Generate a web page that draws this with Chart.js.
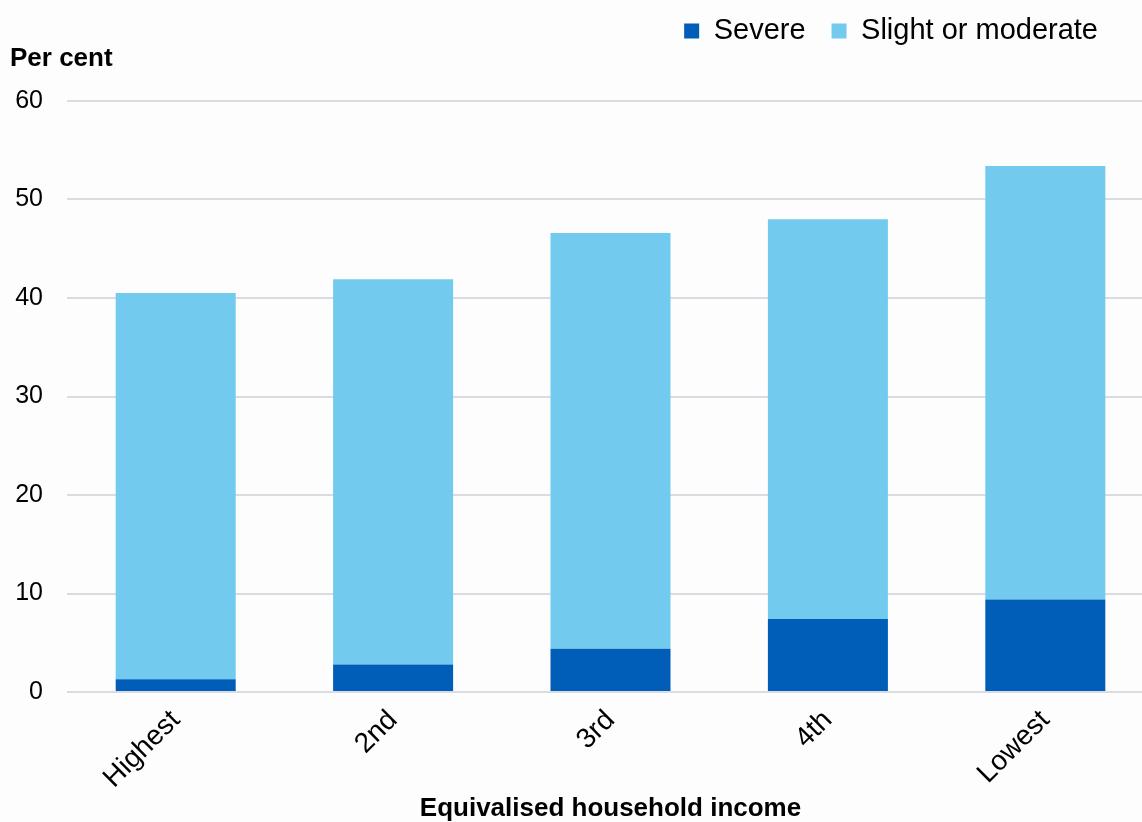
<!DOCTYPE html>
<html>
<head>
<meta charset="utf-8">
<title>Equivalised household income</title>
<script src="https://cdn.jsdelivr.net/npm/chart.js@4/dist/chart.umd.min.js"></script>
<style>
  html, body { margin: 0; padding: 0; background: #fdfdfd; overflow: hidden; }
  #wrap { width: 1160px; height: 822px; }
</style>
</head>
<body>
<div id="wrap"><canvas id="chart" width="1160" height="822"></canvas></div>
<script>
// Income quintiles, highest to lowest
const categories = ['Highest', '2nd', '3rd', '4th', 'Lowest'];
// Percentages of adults, stacked
const severe = [1.3, 2.8, 4.4, 7.4, 9.4];
const slightOrModerate = [39.2, 39.1, 42.2, 40.6, 44.0];
const seriesNames = ['Severe', 'Slight or moderate'];
const yTicks = [0, 10, 20, 30, 40, 50, 60];
const yAxisLabel = 'Per cent';
const xAxisLabel = 'Equivalised household income';

const FONT = '"Liberation Sans", Arial, Helvetica, sans-serif';
const LEGEND_PAD = 26;

// Keeps the legend in the top-right corner above the "Per cent" heading
const legendPlacement = {
  id: 'legendPlacement',
  afterLayout(chart) {
    const lg = chart.legend;
    if (!lg) return;
    const dx = 1124 - lg.right;
    const dy = (16.5 - LEGEND_PAD) - lg.top;
    lg.left += dx; lg.right += dx;
    lg.top += dy; lg.bottom += dy;
  }
};

// Unit heading over the value axis
const unitHeading = {
  id: 'unitHeading',
  afterDraw(chart) {
    const ctx = chart.ctx;
    ctx.save();
    ctx.font = 'bold 26px ' + FONT;
    ctx.fillStyle = '#000';
    ctx.textAlign = 'left';
    ctx.textBaseline = 'alphabetic';
    ctx.fillText(yAxisLabel, 10, 66);
    ctx.restore();
  }
};

new Chart(document.getElementById('chart'), {
  type: 'bar',
  data: {
    labels: categories,
    datasets: [
      { label: seriesNames[0], data: severe, backgroundColor: '#005eb8', borderWidth: 0 },
      { label: seriesNames[1], data: slightOrModerate, backgroundColor: '#72cbee', borderWidth: 0 }
    ]
  },
  options: {
    responsive: false,
    animation: false,
    devicePixelRatio: 1,
    layout: { padding: { top: 36, left: 0, right: 6, bottom: 0 } },
    datasets: { bar: { barPercentage: 0.552, categoryPercentage: 1 } },
    plugins: {
      legend: {
        position: 'top',
        align: 'end',
        labels: {
          font: { family: FONT, size: 29 },
          color: '#000',
          boxWidth: 15,
          boxHeight: 15,
          padding: LEGEND_PAD
        }
      },
      tooltip: { enabled: false }
    },
    scales: {
      x: {
        stacked: true,
        grid: { display: false, drawTicks: false },
        border: { display: false },
        ticks: {
          font: { family: FONT, size: 28 },
          color: '#000',
          minRotation: 45,
          maxRotation: 45,
          autoSkip: false,
          padding: 12
        },
        title: {
          display: true,
          text: xAxisLabel,
          font: { family: FONT, size: 26, weight: 'bold', lineHeight: 1 },
          color: '#000',
          padding: 0
        },
        afterFit(scale) { scale.height = 130; }
      },
      y: {
        stacked: true,
        min: yTicks[0],
        max: yTicks[yTicks.length - 1],
        afterBuildTicks(scale) { scale.ticks = yTicks.map(v => ({ value: v })); },
        grid: { color: '#d9dce1', lineWidth: 2, drawTicks: false },
        border: { display: false },
        ticks: {
          font: { family: FONT, size: 25 },
          color: '#000',
          padding: 24
        },
        afterFit(scale) { scale.width = 67; }
      }
    }
  },
  plugins: [legendPlacement, unitHeading]
});
</script>
</body>
</html>
